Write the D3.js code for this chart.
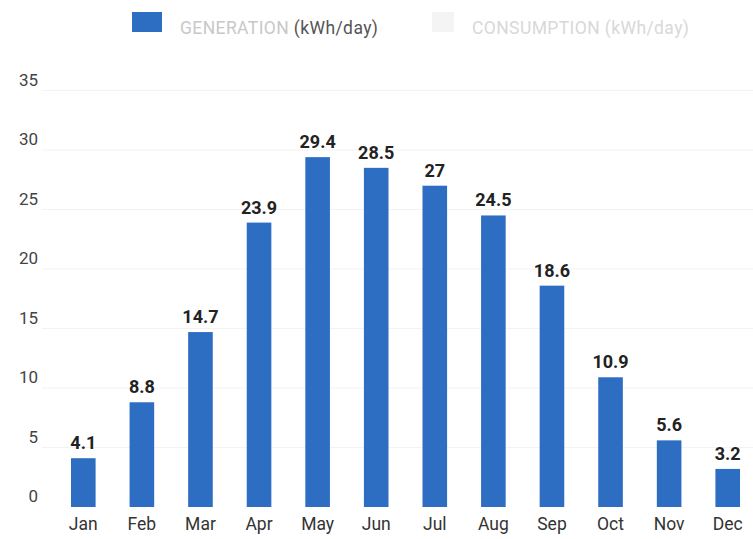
<!DOCTYPE html>
<html>
<head>
<meta charset="utf-8">
<script src="https://cdn.jsdelivr.net/npm/d3@7"></script>
<style>
  body { margin: 0; background: #fff; }
  text { font-family: Roboto, "Noto Sans", sans-serif; }
</style>
</head>
<body>
<div id="chart-container"></div>
<script>
const months = ['Jan', 'Feb', 'Mar', 'Apr', 'May', 'Jun', 'Jul', 'Aug', 'Sep', 'Oct', 'Nov', 'Dec'];
const generation = [4.1, 8.8, 14.7, 23.9, 29.4, 28.5, 27, 24.5, 18.6, 10.9, 5.6, 3.2];
const yTicks = [0, 5, 10, 15, 20, 25, 30, 35];
const legendItems = [
  { label: 'GENERATION', unit: ' (kWh/day)', color: '#2d6dc2', text: '#c8c8c8', unitText: '#555' },
  { label: 'CONSUMPTION', unit: ' (kWh/day)', color: '#f4f4f4', text: '#d8d8d8', unitText: '#d8d8d8' },
];

const width = 753;
const height = 539;
const margin = {
  top: 90, right: 0, bottom: 32, left: 54,
};

const svg = d3.select('#chart-container')
  .append('svg')
  .attr('width', width)
  .attr('height', height);

const x = d3.scaleBand()
  .domain(months)
  .range([margin.left, width + 4])
  .paddingInner(0.58)
  .paddingOuter(0.29);

const y = d3.scaleLinear()
  .domain([0, 35])
  .range([height - margin.bottom, 90.5]);

// faint gridlines
svg.append('g')
  .selectAll('line')
  .data(yTicks.slice(1))
  .enter()
  .append('line')
  .attr('x1', 42)
  .attr('x2', width)
  .attr('y1', (d) => y(d))
  .attr('y2', (d) => y(d))
  .style('stroke', '#f3f3f3')
  .style('stroke-width', 1);

// y axis labels sit a little above their lines
svg.append('g')
  .selectAll('text')
  .data(yTicks)
  .enter()
  .append('text')
  .attr('x', 38)
  .attr('y', (d) => y(d) - 9)
  .attr('text-anchor', 'end')
  .attr('dominant-baseline', 'middle')
  .style('font-size', '17px')
  .style('fill', '#444')
  .text((d) => d);

// bars
svg.append('g')
  .selectAll('rect')
  .data(generation)
  .enter()
  .append('rect')
  .attr('x', (d, i) => x(months[i]))
  .attr('y', (d) => y(d))
  .attr('width', x.bandwidth())
  .attr('height', (d) => y(0) - y(d))
  .style('fill', legendItems[0].color);

// value labels
svg.append('g')
  .selectAll('text')
  .data(generation)
  .enter()
  .append('text')
  .attr('x', (d, i) => x(months[i]) + x.bandwidth() / 2)
  .attr('y', (d) => y(d) - 9)
  .attr('text-anchor', 'middle')
  .style('font-size', '18px')
  .style('font-weight', 'bold')
  .style('fill', '#222')
  .text((d) => d);

// month labels
svg.append('g')
  .attr('transform', `translate(0, ${y(0)})`)
  .call(d3.axisBottom(x).tickSize(0).tickPadding(11))
  .call((g) => g.select('.domain').remove())
  .selectAll('text')
  .style('font-size', '17.5px')
  .style('font-family', 'Roboto, "Noto Sans", sans-serif')
  .style('fill', '#333');

// legend
const legendX = [132, 432];
const legend = svg.append('g')
  .selectAll('g')
  .data(legendItems)
  .enter()
  .append('g')
  .attr('transform', (d, i) => `translate(${legendX[i]}, 12)`);

legend.append('rect')
  .attr('width', (d, i) => (i === 0 ? 30 : 22))
  .attr('height', 20)
  .style('fill', (d) => d.color);

const legendText = legend.append('text')
  .attr('x', (d, i) => (i === 0 ? 48 : 40))
  .attr('y', 17)
  .attr('dominant-baseline', 'middle')
  .style('font-size', '17.5px')
  .style('letter-spacing', '0.4px');

legendText.append('tspan')
  .style('fill', (d) => d.text)
  .text((d) => d.label);

legendText.append('tspan')
  .style('fill', (d) => d.unitText)
  .text((d) => d.unit);
</script>
</body>
</html>
